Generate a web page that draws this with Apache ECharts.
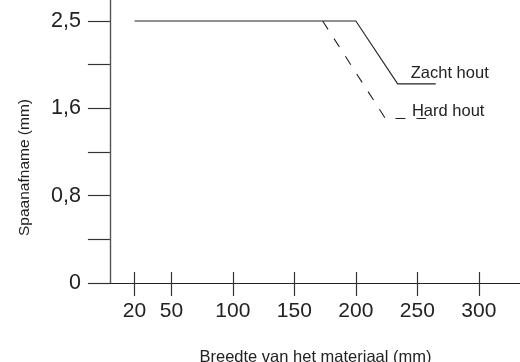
<!DOCTYPE html>
<html>
<head>
<meta charset="utf-8">
<script src="https://cdn.jsdelivr.net/npm/echarts@6/dist/echarts.min.js"></script>
<style>
  html, body { margin: 0; padding: 0; background: #fff; }
  #chart { width: 520px; height: 362px; }
</style>
</head>
<body>
<div id="chart"></div>
<script>
// Chip removal vs. workpiece width, soft and hard wood
const xTicks = [20, 50, 100, 150, 200, 250, 300];
const yTickLabels = ['0', '', '0,8', '', '1,6', '', '2,5'];

const zachtX = [20, 200, 234, 265];
const zachtY = [2.5, 2.5, 1.9, 1.9];

const hardX = [173, 224, 257];
const hardY = [2.5, 1.57, 1.57];

const seriesNames = ['Zacht hout', 'Hard hout'];
const xTitle = 'Breedte van het materiaal (mm)';
const yTitle = 'Spaanafname (mm)';

// y ticks are evenly spaced from 0 up to 2,5
const yStep = 2.5 / (yTickLabels.length - 1);
const yTickValues = yTickLabels.map((_, i) => i * yStep);
const yLabelValues = yTickValues.filter((_, i) => yTickLabels[i] !== '');

const FONT = "'Liberation Sans', Arial, Helvetica, sans-serif";
const INK = '#222';

const toPairs = (xs, ys) => xs.map((x, i) => [x, ys[i]]);

const baseX = {
  type: 'value',
  min: -17,
  max: 333.5,
  position: 'bottom',
  splitLine: { show: false }
};

const chart = echarts.init(document.getElementById('chart'), null, { renderer: 'canvas' });

chart.setOption({
  animation: false,
  backgroundColor: '#fff',
  grid: { left: 89, right: 0, top: 0, bottom: 79, containLabel: false, outerBoundsMode: 'none' },
  xAxis: [
    Object.assign({}, baseX, {
      name: xTitle,
      nameLocation: 'middle',
      nameGap: 66,
      nameMoveOverlap: false,
      nameTextStyle: { fontFamily: FONT, fontSize: 16.5, color: INK, padding: [0, 0, 0, 22] },
      axisLine: { show: true, onZero: false, lineStyle: { color: INK, width: 1.2 } },
      axisTick: { show: true, inside: false, length: 13, customValues: xTicks, lineStyle: { color: '#333', width: 1.2 } },
      axisLabel: { show: true, customValues: xTicks, margin: 18, fontFamily: FONT, fontSize: 21, color: INK }
    }),
    Object.assign({}, baseX, {
      axisLine: { show: false },
      axisTick: { show: true, inside: true, length: 11, customValues: xTicks, lineStyle: { color: '#333', width: 1.2 } },
      axisLabel: { show: false }
    })
  ],
  yAxis: {
    type: 'value',
    min: 0,
    max: 2.7,
    splitLine: { show: false },
    name: yTitle,
    nameLocation: 'middle',
    nameGap: 56,
    nameMoveOverlap: false,
    nameTextStyle: { fontFamily: FONT, fontSize: 15.5, color: INK, padding: [0, 52, 0, 0] },
    axisLine: { show: true, onZero: true, lineStyle: { color: '#555', width: 1.4 } },
    axisTick: { show: true, inside: false, length: 22, customValues: yTickValues, lineStyle: { color: '#333', width: 1.2 } },
    axisLabel: {
      show: true,
      customValues: yLabelValues,
      margin: 8,
      fontFamily: FONT,
      fontSize: 21.5,
      color: INK,
      formatter: (v) => yTickLabels[Math.round(v / yStep)]
    }
  },
  series: [
    {
      name: seriesNames[0],
      type: 'line',
      data: toPairs(zachtX, zachtY),
      showSymbol: false,
      symbol: 'none',
      silent: true,
      lineStyle: { color: INK, width: 1.1 },
      endLabel: {
        show: true,
        formatter: seriesNames[0],
        distance: 0,
        offset: [-25, -10],
        fontFamily: FONT,
        fontSize: 16.5,
        color: INK
      }
    },
    {
      name: seriesNames[1],
      type: 'line',
      data: toPairs(hardX, hardY),
      showSymbol: false,
      symbol: 'none',
      silent: true,
      lineStyle: { color: INK, width: 1.1, type: [10, 11] },
      endLabel: {
        show: true,
        formatter: seriesNames[1],
        distance: 0,
        offset: [-14, -7],
        fontFamily: FONT,
        fontSize: 16.5,
        color: INK
      }
    }
  ]
});
</script>
</body>
</html>
